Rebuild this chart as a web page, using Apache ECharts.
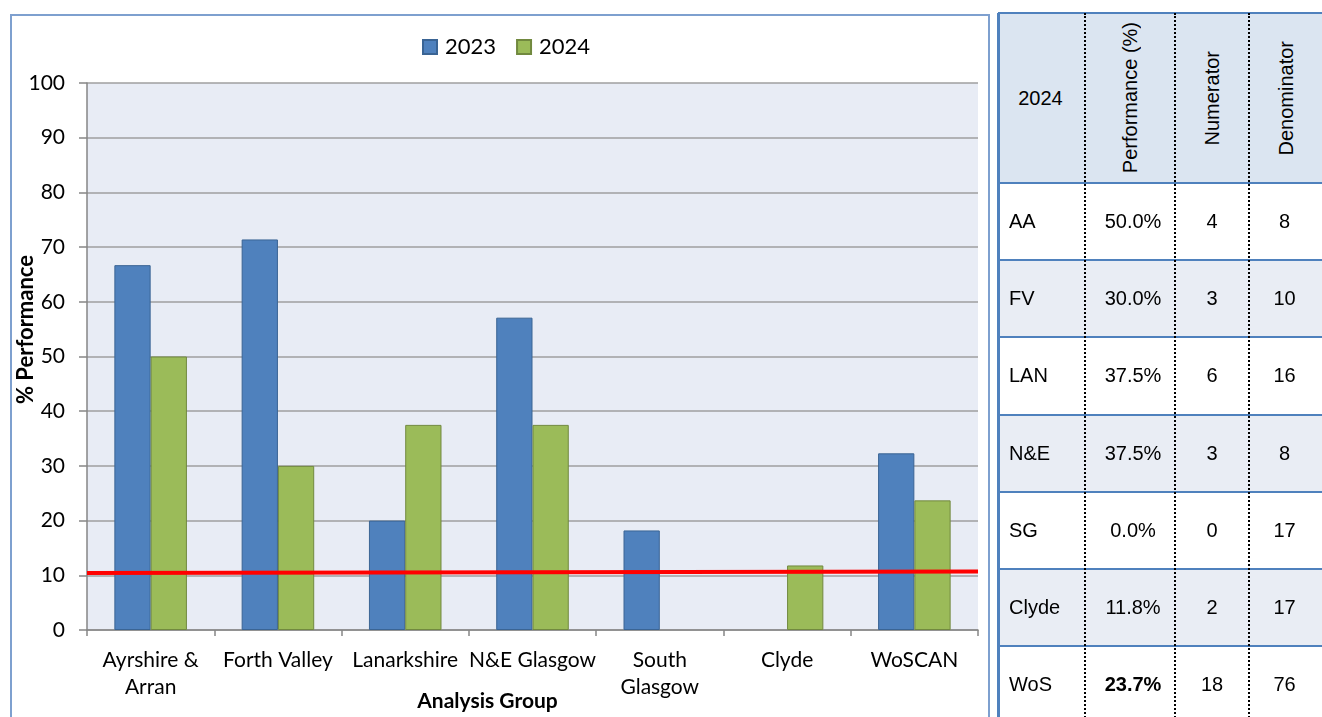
<!DOCTYPE html>
<html>
<head>
<meta charset="utf-8">
<script src="https://cdn.jsdelivr.net/npm/echarts@6/dist/echarts.min.js"></script>
<style>
  html, body { margin:0; padding:0; width:1322px; height:717px; overflow:hidden; background:#fff; }
  #frame { position:absolute; left:10px; top:14px; width:980px; height:720px; border:2px solid #7EA0CF; box-sizing:border-box; }
  #chart { position:absolute; left:0; top:0; width:1322px; height:717px; }
  #table { position:absolute; left:0; top:0; width:1322px; height:717px; font-family:"Liberation Sans", Arial, sans-serif; color:#000; }
  .cell { position:absolute; box-sizing:border-box; display:flex; align-items:center; justify-content:center; font-size:20px; }
  .vtext { writing-mode:vertical-rl; transform:rotate(180deg); }
  .hline { position:absolute; height:2px; background:#4F81BD; }
  .vline { position:absolute; width:0; border-left:2px dotted #000; }
</style>
</head>
<body>
<div id="frame"></div>
<div id="chart"></div>
<div id="table"></div>
<script>
// ---- Chart data ----
var categories = ['Ayrshire &\nArran', 'Forth Valley', 'Lanarkshire', 'N&E Glasgow', 'South\nGlasgow', 'Clyde', 'WoSCAN'];
var values2023 = [66.7, 71.4, 20.0, 57.1, 18.2, null, 32.3];
var values2024 = [50.0, 30.0, 37.5, 37.5, 0, 11.8, 23.7];
var targetLine = [10.4, 10.7];   // red target line, left end / right end
var yTicks = [0, 10, 20, 30, 40, 50, 60, 70, 80, 90, 100];

// ---- Table data ----
var tableYear = '2024';
var tableHeaders = ['Performance (%)', 'Numerator', 'Denominator'];
var tableGroups = ['AA', 'FV', 'LAN', 'N&E', 'SG', 'Clyde', 'WoS'];
var tablePerf = ['50.0%', '30.0%', '37.5%', '37.5%', '0.0%', '11.8%', '23.7%'];
var tableNum = [4, 3, 6, 3, 0, 2, 18];
var tableDen = [8, 10, 16, 8, 17, 17, 76];

function zeroNoBorder(v) { return v === 0 ? { value: 0, itemStyle: { borderWidth: 0 } } : v; }

var chart = echarts.init(document.getElementById('chart'), null, {renderer:'canvas'});
var font = 'Lato, "Open Sans", sans-serif';
var option = {
  animation: false,
  backgroundColor: 'transparent',
  textStyle: { fontFamily: font },
  legend: {
    left: 417, top: 31,
    itemWidth: 14, itemHeight: 14, itemGap: 20,
    icon: 'rect',
    textStyle: { fontSize: 22, color: '#000', fontFamily: font, padding: [0, 0, 0, 3] },
    data: ['2023', '2024']
  },
  grid: { left: 87, top: 83, width: 891, height: 547, show: true, backgroundColor: '#E8ECF5', borderWidth: 0,
          containLabel: false, outerBoundsMode: 'none' },
  xAxis: [{
    type: 'category',
    data: categories,
    name: 'Analysis Group',
    nameLocation: 'middle',
    nameGap: 61,
    nameMoveOverlap: false,
    nameTextStyle: { fontSize: 21, fontWeight: 'bold', color: '#000', fontFamily: font, padding: [0, 90, 0, 0] },
    axisLine: { lineStyle: { color: '#868686', width: 1.5 } },
    axisTick: { show: true, length: 6, lineStyle: { color: '#868686', width: 1.5 } },
    axisLabel: { fontSize: 21, color: '#000', margin: 17, lineHeight: 27, interval: 0, fontFamily: font },
    splitLine: { show: false }
  }, {
    type: 'value', min: 0, max: 1, show: false
  }],
  yAxis: {
    type: 'value', min: yTicks[0], max: yTicks[yTicks.length - 1], interval: 10,
    name: '% Performance',
    nameLocation: 'middle',
    nameGap: 50,
    nameMoveOverlap: false,
    nameTextStyle: { fontSize: 22, fontWeight: 'bold', color: '#000', fontFamily: font, padding: [0, 0, 0, 54] },
    axisLine: { show: true, lineStyle: { color: '#868686', width: 1.5 } },
    axisTick: { show: true, length: 8, lineStyle: { color: '#868686', width: 1.5 } },
    axisLabel: { fontSize: 21, color: '#000', margin: 22, fontFamily: font },
    splitLine: { show: true, lineStyle: { color: '#9F9F9F', width: 1.5 } }
  },
  series: [{
    name: '2023', type: 'bar', data: values2023.map(zeroNoBorder),
    barGap: '0%', barCategoryGap: '43%',
    itemStyle: { color: '#4F81BD', borderColor: '#3A6494', borderWidth: 1 }
  }, {
    name: '2024', type: 'bar', data: values2024.map(zeroNoBorder),
    barGap: '0%', barCategoryGap: '43%',
    itemStyle: { color: '#9BBB59', borderColor: '#71893F', borderWidth: 1 }
  }, {
    name: 'Target', type: 'line', xAxisIndex: 1,
    data: [[0, targetLine[0]], [1, targetLine[1]]],
    symbol: 'none', silent: true, z: 5,
    lineStyle: { color: '#FF0000', width: 4 }
  }]
};
chart.setOption(option);

// ---- Table ----
var tbl = document.getElementById('table');
var colX = [998, 1085, 1175, 1249, 1324];
var headerTop = 13, headerBottom = 183, rowH = 77.2;
function addCell(x0, x1, y0, y1, html, cls, extra) {
  var d = document.createElement('div');
  d.className = 'cell';
  d.style.left = x0 + 'px'; d.style.top = y0 + 'px';
  d.style.width = (x1 - x0) + 'px'; d.style.height = (y1 - y0) + 'px';
  if (extra) for (var k in extra) d.style[k] = extra[k];
  var s = document.createElement('span');
  if (cls) s.className = cls;
  s.textContent = html;
  d.appendChild(s);
  tbl.appendChild(d);
  return d;
}
// backgrounds
var bgH = document.createElement('div');
bgH.style.cssText = 'position:absolute;left:998px;top:' + headerTop + 'px;width:330px;height:' + (headerBottom - headerTop) + 'px;background:#DBE5F1;';
tbl.appendChild(bgH);
for (var i = 0; i < tableGroups.length; i++) {
  var y0 = headerBottom + i * rowH;
  if (i % 2 === 1) {
    var bg = document.createElement('div');
    bg.style.cssText = 'position:absolute;left:998px;top:' + y0 + 'px;width:330px;height:' + rowH + 'px;background:#E9EDF4;';
    tbl.appendChild(bg);
  }
}
// header texts
addCell(colX[0], colX[1], headerTop, headerBottom, tableYear, null, {paddingRight:'2px'});
for (var c = 0; c < tableHeaders.length; c++) {
  addCell(colX[c + 1], colX[c + 2], headerTop, headerBottom, tableHeaders[c], 'vtext', {});
}
// rows
for (var i = 0; i < tableGroups.length; i++) {
  var y0 = headerBottom + i * rowH, y1 = y0 + rowH;
  addCell(colX[0], colX[1], y0, y1, tableGroups[i], null, {justifyContent:'flex-start', paddingLeft:'11px'});
  var p = addCell(colX[1], colX[2], y0, y1, tablePerf[i], null, {paddingLeft:'6px'});
  if (tableGroups[i] === 'WoS') p.style.fontWeight = 'bold';
  addCell(colX[2], colX[3], y0, y1, String(tableNum[i]));
  addCell(colX[3], colX[4], y0, y1, String(tableDen[i]), null, {paddingRight:'4px'});
}
// horizontal lines
var hy = [headerTop, headerBottom];
for (var i = 1; i < tableGroups.length; i++) hy.push(headerBottom + i * rowH);
hy.forEach(function (y) {
  var l = document.createElement('div');
  l.className = 'hline';
  l.style.left = '998px'; l.style.width = '330px'; l.style.top = (Math.round(y) - 1) + 'px';
  tbl.appendChild(l);
});
// left border of table (thick blue)
var lb = document.createElement('div');
lb.style.cssText = 'position:absolute;left:997px;top:' + headerTop + 'px;width:3px;height:720px;background:#4F81BD;';
tbl.appendChild(lb);
// vertical dotted lines
for (var c = 1; c < 4; c++) {
  var v = document.createElement('div');
  v.className = 'vline';
  v.style.left = (colX[c] - 1) + 'px'; v.style.top = headerTop + 'px'; v.style.height = '720px';
  tbl.appendChild(v);
}
</script>
</body>
</html>
